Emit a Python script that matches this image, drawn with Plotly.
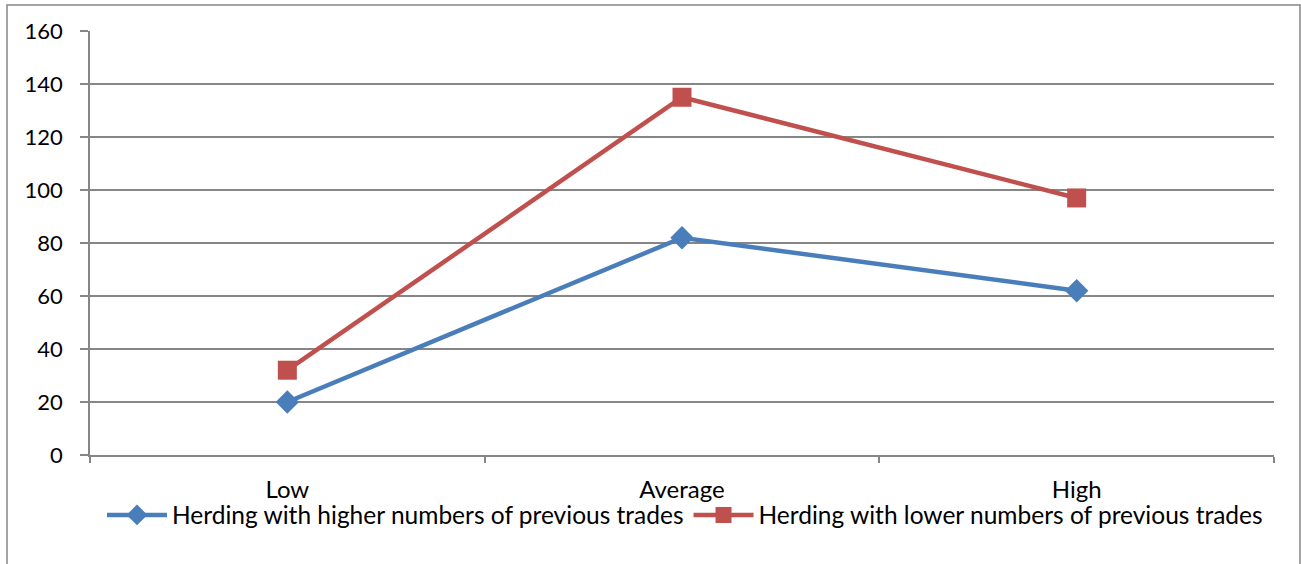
import plotly.graph_objects as go

categories = ["Low", "Average", "High"]
higher_trades = [20, 82, 62]
lower_trades = [32, 135, 97]
y_ticks = [0, 20, 40, 60, 80, 100, 120, 140, 160]

W, H = 1301, 564
L, R, T, B = 90, 27, 31, 109
pw, ph = W - L - R, H - T - B

def px(x):
    return (x - L) / pw

def py(y):
    return (H - B - y) / ph

FONT = "Lato, Open Sans, sans-serif"
GRID = "#868686"

fig = go.Figure()
fig.add_trace(go.Scatter(
    x=categories, y=higher_trades, mode="lines+markers",
    name="Herding with higher numbers of previous trades",
    line=dict(color="#4A7EBB", width=4.5),
    marker=dict(symbol="diamond", size=18, color="#4A7EBB"),
))
fig.add_trace(go.Scatter(
    x=categories, y=lower_trades, mode="lines+markers",
    name="Herding with lower numbers of previous trades",
    line=dict(color="#C0504D", width=4.5),
    marker=dict(symbol="square", size=19, color="#C0504D"),
))

fig.update_layout(
    width=W, height=H,
    margin=dict(l=L, r=R, t=T, b=B),
    paper_bgcolor="white", plot_bgcolor="white",
    font=dict(family=FONT, size=23, color="#000000"),
    showlegend=True,
    legend=dict(orientation="h", x=px(685), xanchor="center",
                y=py(515), yanchor="middle", itemwidth=60,
                font=dict(size=24.5), tracegroupgap=0,
                bgcolor="rgba(0,0,0,0)"),
    xaxis=dict(type="category", range=[-0.5, 2.5], showgrid=False,
               showline=True, linecolor=GRID, linewidth=1.5,
               ticks="outside", tickson="boundaries", ticklen=6,
               tickcolor=GRID, tickwidth=1.5, ticklabelstandoff=12,
               tickfont=dict(size=24)),
    yaxis=dict(range=[0, 160], tickvals=y_ticks, showgrid=True,
               gridcolor=GRID, gridwidth=1.5, zeroline=False,
               showline=True, linecolor=GRID, linewidth=1.5,
               ticks="outside", ticklen=8, tickcolor=GRID, tickwidth=1.5,
               ticklabelstandoff=13, tickfont=dict(size=22)),
    shapes=[dict(type="rect", xref="paper", yref="paper",
                 x0=px(7), x1=px(1300), y0=py(600), y1=py(5),
                 line=dict(color=GRID, width=1.5), layer="below")],
)

fig.write_html("out.html", config={"displayModeBar": False},
               post_script="document.body.style.margin='0';document.body.style.padding='0';")
